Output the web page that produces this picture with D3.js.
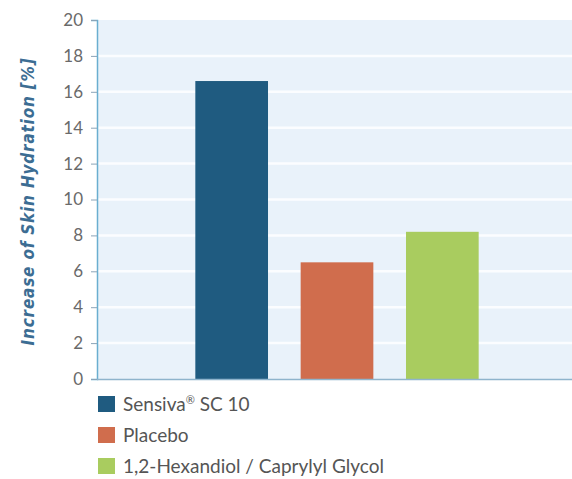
<!DOCTYPE html>
<html>
<head>
<meta charset="utf-8">
<script src="https://cdn.jsdelivr.net/npm/d3@7"></script>
<style>
  body { margin: 0; background: #fff; }
  svg { display: block; }
</style>
</head>
<body>
<div id="chart"></div>
<script>
const categories = ['Sensiva® SC 10', 'Placebo', '1,2-Hexandiol / Caprylyl Glycol'];
const values = [16.6, 6.5, 8.2];
const colors = ['#1f5b80', '#d06d4d', '#a9cc5f'];
const yTicks = [0, 2, 4, 6, 8, 10, 12, 14, 16, 18, 20];
const yTitle = 'Increase of Skin Hydration [%]';

const width = 572, height = 479;
const plotLeft = 97, plotRight = 572, plotTop = 20, plotBottom = 379;

const svg = d3.select('#chart')
    .append('svg')
    .attr('width', width)
    .attr('height', height);

const y = d3.scaleLinear().domain([0, 20]).range([plotBottom, plotTop]);
const x = d3.scaleBand()
    .domain(categories)
    .range([179, 495])
    .paddingInner(0.31)
    .paddingOuter(0.155);

// plot background
svg.append('rect')
    .attr('x', plotLeft)
    .attr('y', plotTop)
    .attr('width', plotRight - plotLeft)
    .attr('height', plotBottom - plotTop)
    .attr('fill', '#e9f2fa');

// grid
svg.append('g')
    .selectAll('line')
    .data(yTicks.filter(d => d > 0 && d < 20))
    .enter()
    .append('line')
    .attr('x1', plotLeft)
    .attr('x2', plotRight)
    .attr('y1', d => y(d))
    .attr('y2', d => y(d))
    .attr('stroke', '#fbfdff')
    .attr('stroke-width', 2.5);

// bars
svg.append('g')
    .selectAll('rect')
    .data(values)
    .enter()
    .append('rect')
    .attr('x', (d, i) => x(categories[i]))
    .attr('y', d => y(d))
    .attr('width', x.bandwidth())
    .attr('height', d => plotBottom - y(d))
    .attr('fill', (d, i) => colors[i]);

// y axis
const axisY = d3.axisLeft(y).tickValues(yTicks).tickSize(6).tickPadding(8).tickFormat(d3.format('d'));
const yAxisWrapper = svg.append('g')
    .attr('transform', `translate(${plotLeft}, 0)`)
    .call(axisY);
yAxisWrapper.select('.domain').attr('stroke', '#6aaed0').attr('stroke-width', 1.5);
yAxisWrapper.selectAll('.tick line').attr('stroke', '#8aa4b8');
yAxisWrapper.selectAll('.tick text')
    .attr('fill', '#6a6a6a')
    .style('font-family', 'Lato, "Open Sans", sans-serif')
    .style('font-size', '17px');

// x axis baseline
svg.append('line')
    .attr('x1', plotLeft)
    .attr('x2', plotRight)
    .attr('y1', plotBottom + 0.5)
    .attr('y2', plotBottom + 0.5)
    .attr('stroke', '#8fb4cc')
    .attr('stroke-width', 1.5);

// y title
svg.append('text')
    .attr('transform', `translate(34, ${(plotTop + plotBottom) / 2 + 2}) rotate(-90)`)
    .attr('text-anchor', 'middle')
    .attr('fill', '#3c6d93')
    .style('font-family', '"DejaVu Sans Condensed", "DejaVu Sans", sans-serif')
    .style('font-stretch', 'condensed')
    .style('font-weight', 'bold')
    .style('font-style', 'italic')
    .style('font-size', '17px')
    .style('letter-spacing', '0.8px')
    .text(yTitle);

// legend
const legend = svg.append('g')
    .selectAll('g')
    .data(categories)
    .enter()
    .append('g')
    .attr('transform', (d, i) => `translate(98, ${396 + i * 31})`);

legend.append('rect')
    .attr('width', 17)
    .attr('height', 16)
    .attr('fill', (d, i) => colors[i]);

const legendText = legend.append('text')
    .attr('x', 25)
    .attr('y', 15)
    .attr('fill', '#555')
    .style('font-family', 'Lato, "Open Sans", sans-serif')
    .style('font-size', '19px');

legendText.each(function (d) {
    const t = d3.select(this);
    if (d.includes('®')) {
        const parts = d.split('®');
        t.append('tspan').text(parts[0]);
        t.append('tspan').attr('dy', -7).style('font-size', '11px').text('®');
        t.append('tspan').attr('dy', 7).text(parts[1]);
    } else {
        t.text(d);
    }
});
</script>
</body>
</html>
